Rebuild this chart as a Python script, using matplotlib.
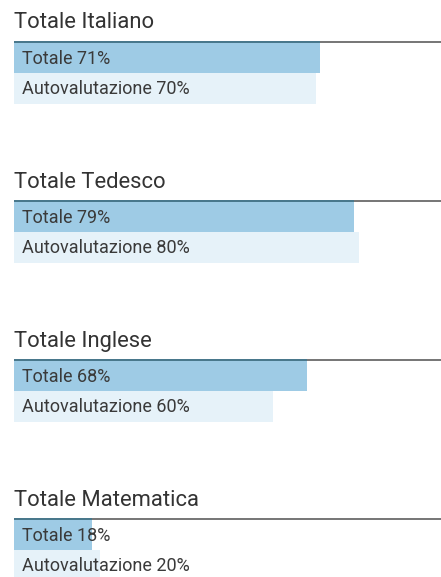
import matplotlib.pyplot as plt

# dati
materie = ['Totale Italiano', 'Totale Tedesco', 'Totale Inglese', 'Totale Matematica']
totale = [71, 79, 68, 18]
autovalutazione = [70, 80, 60, 20]

plt.rcParams['font.family'] = ['Roboto', 'DejaVu Sans']

fig = plt.figure(figsize=(4.41, 5.77), dpi=100)
ax = fig.add_axes([14 / 441, 0, 1 - 14 / 441, 1])
ax.set_xlim(0, 427 / 431 * 100)
ax.set_ylim(577, 0)
ax.axis('off')

passo = 159.1
for i, nome in enumerate(materie):
    y0 = 42 + passo * i
    ax.text(0, y0 - 13.5, nome, fontsize=15.8, color='#333333', va='baseline', ha='left')
    ax.plot([0, 100], [y0, y0], color='#6a6a6a', lw=1.3, solid_capstyle='butt')
    ax.barh(y0 + 1 + 15, totale[i], height=30, color='#9ecbe5', align='center')
    ax.barh(y0 + 31 + 15.5, autovalutazione[i], height=31, color='#e6f2f9', align='center')
    # bordo superiore più scuro sopra la barra
    ax.plot([0, totale[i]], [y0, y0], color='#44788f', lw=1.3, solid_capstyle='butt')
    ax.text(1.9, y0 + 21.5, f'Totale {totale[i]}%', fontsize=13, color='#3a3a3a',
            va='baseline', ha='left')
    ax.text(1.9, y0 + 52, f'Autovalutazione {autovalutazione[i]}%', fontsize=13,
            color='#3a3a3a', va='baseline', ha='left')

fig.savefig('out.png', dpi=100)
